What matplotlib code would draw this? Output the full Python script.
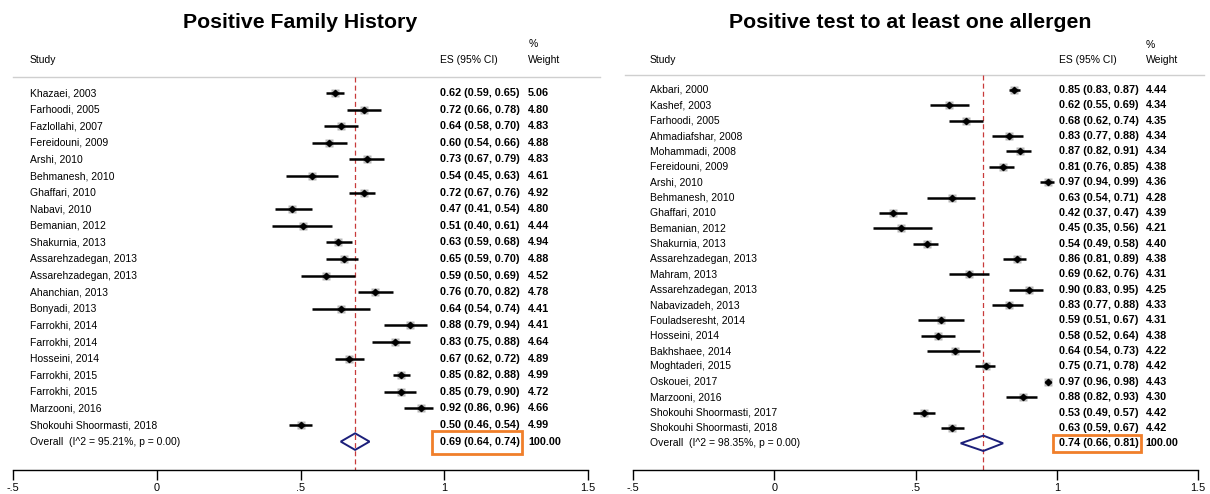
import matplotlib
matplotlib.use("Agg")
import matplotlib.pyplot as plt
from matplotlib.patches import Polygon, Rectangle
import numpy as np

plt.rcParams['font.family'] = ['Liberation Sans', 'DejaVu Sans']

# ---------------- Data: Positive Family History ----------------
fh_title = "Positive Family History"
fh_studies = ["Khazaei, 2003", "Farhoodi, 2005", "Fazlollahi, 2007", "Fereidouni, 2009",
              "Arshi, 2010", "Behmanesh, 2010", "Ghaffari, 2010", "Nabavi, 2010",
              "Bemanian, 2012", "Shakurnia, 2013", "Assarehzadegan, 2013",
              "Assarehzadegan, 2013", "Ahanchian, 2013", "Bonyadi, 2013",
              "Farrokhi, 2014", "Farrokhi, 2014", "Hosseini, 2014", "Farrokhi, 2015",
              "Farrokhi, 2015", "Marzooni, 2016", "Shokouhi Shoormasti, 2018"]
fh_es = [0.62, 0.72, 0.64, 0.60, 0.73, 0.54, 0.72, 0.47, 0.51, 0.63, 0.65,
         0.59, 0.76, 0.64, 0.88, 0.83, 0.67, 0.85, 0.85, 0.92, 0.50]
fh_lo = [0.59, 0.66, 0.58, 0.54, 0.67, 0.45, 0.67, 0.41, 0.40, 0.59, 0.59,
         0.50, 0.70, 0.54, 0.79, 0.75, 0.62, 0.82, 0.79, 0.86, 0.46]
fh_hi = [0.65, 0.78, 0.70, 0.66, 0.79, 0.63, 0.76, 0.54, 0.61, 0.68, 0.70,
         0.69, 0.82, 0.74, 0.94, 0.88, 0.72, 0.88, 0.90, 0.96, 0.54]
fh_wt = [5.06, 4.80, 4.83, 4.88, 4.83, 4.61, 4.92, 4.80, 4.44, 4.94, 4.88,
         4.52, 4.78, 4.41, 4.41, 4.64, 4.89, 4.99, 4.72, 4.66, 4.99]
fh_overall = (0.69, 0.64, 0.74)
fh_overall_label = "Overall  (I^2 = 95.21%, p = 0.00)"

# ---------------- Data: Positive test to at least one allergen ----------------
al_title = "Positive test to at least one allergen"
al_studies = ["Akbari, 2000", "Kashef, 2003", "Farhoodi, 2005", "Ahmadiafshar, 2008",
              "Mohammadi, 2008", "Fereidouni, 2009", "Arshi, 2010", "Behmanesh, 2010",
              "Ghaffari, 2010", "Bemanian, 2012", "Shakurnia, 2013",
              "Assarehzadegan, 2013", "Mahram, 2013", "Assarehzadegan, 2013",
              "Nabavizadeh, 2013", "Fouladseresht, 2014", "Hosseini, 2014",
              "Bakhshaee, 2014", "Moghtaderi, 2015", "Oskouei, 2017", "Marzooni, 2016",
              "Shokouhi Shoormasti, 2017", "Shokouhi Shoormasti, 2018"]
al_es = [0.85, 0.62, 0.68, 0.83, 0.87, 0.81, 0.97, 0.63, 0.42, 0.45, 0.54, 0.86,
         0.69, 0.90, 0.83, 0.59, 0.58, 0.64, 0.75, 0.97, 0.88, 0.53, 0.63]
al_lo = [0.83, 0.55, 0.62, 0.77, 0.82, 0.76, 0.94, 0.54, 0.37, 0.35, 0.49, 0.81,
         0.62, 0.83, 0.77, 0.51, 0.52, 0.54, 0.71, 0.96, 0.82, 0.49, 0.59]
al_hi = [0.87, 0.69, 0.74, 0.88, 0.91, 0.85, 0.99, 0.71, 0.47, 0.56, 0.58, 0.89,
         0.76, 0.95, 0.88, 0.67, 0.64, 0.73, 0.78, 0.98, 0.93, 0.57, 0.67]
al_wt = [4.44, 4.34, 4.35, 4.34, 4.34, 4.38, 4.36, 4.28, 4.39, 4.21, 4.40, 4.38,
         4.31, 4.25, 4.33, 4.31, 4.38, 4.22, 4.42, 4.43, 4.30, 4.42, 4.42]
al_overall = (0.74, 0.66, 0.81)
al_overall_label = "Overall  (I^2 = 98.35%, p = 0.00)"

xticks = [-0.5, 0, 0.5, 1, 1.5]
xticklabels = ["-.5", "0", ".5", "1", "1.5"]

W, H = 1210, 494
fig = plt.figure(figsize=(W / 100, H / 100), dpi=100)
fig.patch.set_facecolor("white")

FS = 7.5     # regular text
FSB = 7.8    # bold numeric columns
ORANGE = "#f07f2a"
NAVY = "#1c1f7a"
DASH = "#c83a3a"


def panel(rect, title, studies, es, lo, hi, wt, overall, olabel, ylim,
          xcol, header_y, box, title_xy, hline_x):
    ax = fig.add_axes(rect)
    ax.set_xlim(-0.5, 1.5)
    ax.set_ylim(*ylim)
    for s in ["top", "right", "left"]:
        ax.spines[s].set_visible(False)
    ax.spines["bottom"].set_linewidth(1.0)
    ax.set_yticks([])
    ax.set_xticks(xticks)
    ax.set_xticklabels(xticklabels, fontsize=7.8)
    ax.tick_params(axis="x", length=7, width=1.0, pad=2)

    xs, xe, xw = xcol
    ax.text(title_xy[0], title_xy[1], title, fontsize=15.3, fontweight="bold",
            ha="center", va="center")
    ax.text(xs, header_y, "Study", fontsize=FS, ha="left", va="center")
    ax.text(xe, header_y, "ES (95% CI)", fontsize=FS, ha="left", va="center")
    ax.text(xw, header_y, "Weight", fontsize=FS, ha="left", va="center")
    ax.text(xw, header_y - 0.98, "%", fontsize=FS, ha="left", va="center")
    hl_y = header_y + 1.0
    ax.plot(hline_x, [hl_y, hl_y], color="#cfcfcf", lw=1.0, clip_on=False)

    rows = np.arange(len(studies))
    oes, olo, ohi = overall
    ax.vlines(oes, hl_y, ylim[0], colors=DASH, linestyles=(0, (4, 2.5)), lw=0.9)

    for r, s, e, l, h, w in zip(rows, studies, es, lo, hi, wt):
        ax.plot([l, h], [r, r], color="black", lw=1.8, solid_capstyle="butt", zorder=3)
        ax.plot(e, r, marker="s", ms=1.25 * w, color="#b8b8b8", mec="none", zorder=2)
        ax.plot(e, r, marker="D", ms=3.2, color="black", zorder=4)
        ax.text(xs, r, s, fontsize=FS, ha="left", va="center")
        ax.text(xe, r, f"{e:.2f} ({l:.2f}, {h:.2f})", fontsize=FSB,
                fontweight="bold", ha="left", va="center")
        ax.text(xw, r, f"{w:.2f}", fontsize=FSB, fontweight="bold",
                ha="left", va="center")

    ro = len(studies)
    dh = 0.5
    ax.add_patch(Polygon([[olo, ro], [oes, ro - dh], [ohi, ro], [oes, ro + dh]],
                         closed=True, fill=False, edgecolor=NAVY, lw=1.4, zorder=4))
    ax.text(xs, ro, olabel, fontsize=FS, ha="left", va="center")
    ax.text(xe, ro, f"{oes:.2f} ({olo:.2f}, {ohi:.2f})", fontsize=FSB,
            fontweight="bold", ha="left", va="center")
    ax.text(xw, ro, "100.00", fontsize=FSB, fontweight="bold", ha="left", va="center")
    bx0, bx1, by0, by1 = box
    ax.add_patch(Rectangle((bx0, by0), bx1 - bx0, by1 - by0, fill=False,
                           edgecolor=ORANGE, lw=2.0, zorder=5))
    return ax


# Left panel
panel([13 / W, 24 / H, 575 / W, 470 / H], fh_title, fh_studies, fh_es, fh_lo, fh_hi,
      fh_wt, fh_overall, fh_overall_label,
      ylim=((470 - 93) / 16.6, -93 / 16.6),
      xcol=(-0.441, 0.985, 1.292), header_y=(60 - 93) / 16.6,
      box=(0.957, 1.270, (431 - 93) / 16.6, (454 - 93) / 16.6),
      title_xy=(0.498, (23 - 93) / 16.6), hline_x=[-0.5, 1.54])

# Right panel
panel([633 / W, 24 / H, 565 / W, 470 / H], al_title, al_studies, al_es, al_lo, al_hi,
      al_wt, al_overall, al_overall_label,
      ylim=((470 - 90) / 15.36, -90 / 15.36),
      xcol=(-0.44, 1.008, 1.315), header_y=(60 - 90) / 15.36,
      box=(0.985, 1.297, (435 - 90) / 15.36, (452 - 90) / 15.36),
      title_xy=(0.48, (23 - 90) / 15.36), hline_x=[-0.53, 1.52])

fig.savefig("out.png", dpi=100, facecolor="white")
